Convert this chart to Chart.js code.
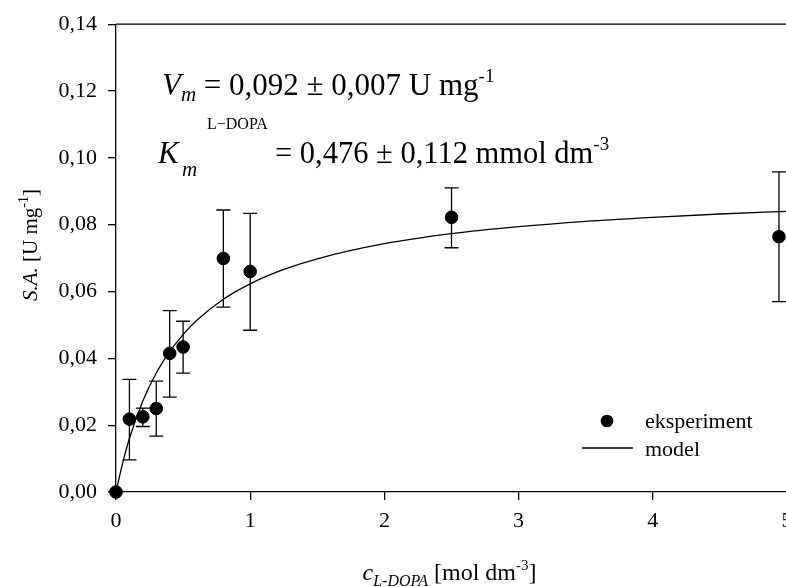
<!DOCTYPE html>
<html>
<head>
<meta charset="utf-8">
<style>
  html, body { margin: 0; padding: 0; background: #fff; overflow: hidden; }
  #wrap { width: 830px; height: 587px; }
</style>
<script src="https://cdn.jsdelivr.net/npm/chart.js@4.4.1/dist/chart.umd.min.js"></script>
</head>
<body>
<div id="wrap"><canvas id="kin" width="830" height="587"></canvas></div>
<script>
// measured points (c in mol dm-3, S.A. in U mg-1) with error bar ends
const conc = [0, 0.1, 0.2, 0.3, 0.4, 0.5, 0.8, 1.0, 2.5, 4.94];
const activity = [0, 0.0218, 0.0225, 0.0250, 0.0415, 0.0434, 0.0699, 0.0660, 0.0822, 0.0764];
const errLow = [0, 0.0096, 0.0196, 0.0167, 0.0284, 0.0356, 0.0553, 0.0484, 0.0731, 0.0570];
const errHigh = [0, 0.0337, 0.0251, 0.0332, 0.0543, 0.0511, 0.0844, 0.0834, 0.0910, 0.0958];

// model curve
const modelConc = [0, 0.05, 0.1, 0.2, 0.3, 0.4, 0.5, 0.6, 0.8, 1.0, 1.25, 1.5, 2.0, 2.5, 3.0, 3.5, 4.0, 4.5, 5.0];
const modelActivity = [0, 0.0087, 0.0160, 0.0272, 0.0356, 0.0420, 0.0471, 0.0513, 0.0577, 0.0623, 0.0666, 0.0698, 0.0743, 0.0773, 0.0794, 0.0810, 0.0822, 0.0832, 0.0840];

const xTickLabels = ['0', '1', '2', '3', '4', '5'];
const yTickLabels = ['0,00', '0,02', '0,04', '0,06', '0,08', '0,10', '0,12', '0,14'];

const SERIF = '"Liberation Serif", "Times New Roman", serif';
const f = (size, italic) => (italic ? 'italic ' : '') + size + 'px ' + SERIF;

function measure(ctx, parts) {
  let w = 0;
  for (const p of parts) { ctx.font = p[1]; w += ctx.measureText(p[0]).width; }
  return w;
}

function rich(ctx, x, y, parts) {
  let cx = x;
  for (const p of parts) {
    ctx.font = p[1];
    ctx.fillText(p[0], cx, y + (p[2] || 0));
    cx += ctx.measureText(p[0]).width;
  }
  return cx;
}

const errorBars = {
  id: 'errorBars',
  beforeDatasetsDraw(chart) {
    const { ctx, scales: { x, y } } = chart;
    ctx.save();
    ctx.strokeStyle = '#000';
    ctx.lineWidth = 1.3;
    conc.forEach((c, i) => {
      if (errHigh[i] === errLow[i]) return;
      const px = x.getPixelForValue(c);
      const top = y.getPixelForValue(errHigh[i]);
      const bot = y.getPixelForValue(errLow[i]);
      ctx.beginPath();
      ctx.moveTo(px, top); ctx.lineTo(px, bot);
      ctx.moveTo(px - 7, top); ctx.lineTo(px + 7, top);
      ctx.moveTo(px - 7, bot); ctx.lineTo(px + 7, bot);
      ctx.stroke();
    });
    ctx.restore();
  }
};

const decorations = {
  id: 'decorations',
  afterDraw(chart) {
    const { ctx, chartArea: a } = chart;
    ctx.save();
    ctx.fillStyle = '#000';
    ctx.strokeStyle = '#000';
    ctx.lineWidth = 1.3;
    // frame top / right
    ctx.beginPath();
    ctx.moveTo(a.left, a.top); ctx.lineTo(a.right, a.top); ctx.lineTo(a.right, a.bottom);
    ctx.stroke();

    ctx.textBaseline = 'alphabetic';
    ctx.textAlign = 'left';

    // x title
    const xt = [['c', f(24, true)], ['L-DOPA', f(16, true), 6], [' [mol dm', f(24)], ['-3', f(15), -10], [']', f(24)]];
    const xc = (a.left + a.right) / 2 - 2;
    rich(ctx, xc - measure(ctx, xt) / 2, 580, xt);

    // y title
    const yt = [['S.A.', f(21, true)], [' [U mg', f(21)], ['-1', f(14), -9], [']', f(21)]];
    ctx.save();
    ctx.translate(37, 245);
    ctx.rotate(-Math.PI / 2);
    rich(ctx, -measure(ctx, yt) / 2, 0, yt);
    ctx.restore();

    // fitted parameters
    rich(ctx, a.left + 46, 95, [['V', f(31, true)], ['m', f(21, true), 6], [' = 0,092 ± 0,007 U mg', f(31)], ['-1', f(19), -13]]);
    const kx = a.left + 42;
    ctx.font = f(31, true);
    ctx.fillText('K', kx, 163);
    ctx.font = f(21, true);
    ctx.fillText('m', kx + 24, 176);
    ctx.font = f(16);
    ctx.fillText('L\u2212DOPA', a.left + 91, 129);
    rich(ctx, a.left + 159, 163, [['= 0,476 ± 0,112 mmol dm', f(30.5)], ['-3', f(19), -13]]);

    // legend
    const lx = a.left + 529;
    ctx.beginPath();
    ctx.arc(a.left + 491, 421, 6.3, 0, Math.PI * 2);
    ctx.fill();
    ctx.font = f(22);
    ctx.fillText('eksperiment', lx, 428);
    ctx.beginPath();
    ctx.moveTo(a.left + 466, 448); ctx.lineTo(a.left + 517, 448);
    ctx.stroke();
    ctx.fillText('model', lx, 456);
    ctx.restore();
  }
};

new Chart(document.getElementById('kin'), {
  type: 'scatter',
  data: {
    datasets: [
      {
        label: 'eksperiment',
        data: conc.map((c, i) => ({ x: c, y: activity[i] })),
        backgroundColor: '#000',
        borderColor: '#000',
        pointRadius: 6.3,
        pointHoverRadius: 6.3,
        clip: false,
        order: 0
      },
      {
        label: 'model',
        type: 'line',
        data: modelConc.map((c, i) => ({ x: c, y: modelActivity[i] })),
        borderColor: '#000',
        borderWidth: 1.3,
        pointRadius: 0,
        fill: false,
        cubicInterpolationMode: 'monotone',
        order: 1
      }
    ]
  },
  options: {
    responsive: false,
    animation: false,
    events: [],
    layout: { padding: { top: 22, right: 43, left: 0, bottom: 0 } },
    plugins: { legend: { display: false }, tooltip: { enabled: false } },
    scales: {
      x: {
        type: 'linear',
        min: 0,
        max: 5,
        afterFit: (s) => { s.height = 95; },
        afterBuildTicks: (s) => { s.ticks = xTickLabels.map((t) => ({ value: Number(t) })); },
        ticks: {
          callback: (v, i) => xTickLabels[i],
          font: { family: SERIF, size: 22 },
          color: '#000',
          padding: 8,
          maxRotation: 0
        },
        grid: { drawOnChartArea: false, drawTicks: true, tickLength: 8, color: '#000', lineWidth: 1.3 },
        border: { display: true, color: '#000', width: 1.3 }
      },
      y: {
        type: 'linear',
        min: 0,
        max: 0.14,
        afterFit: (s) => { s.width = 116; },
        afterBuildTicks: (s) => { s.ticks = yTickLabels.map((t) => ({ value: Number(t.replace(',', '.')) })); },
        ticks: {
          callback: (v, i) => yTickLabels[i],
          font: { family: SERIF, size: 22 },
          color: '#000',
          padding: 11
        },
        grid: { drawOnChartArea: false, drawTicks: true, tickLength: 8, color: '#000', lineWidth: 1.3 },
        border: { display: true, color: '#000', width: 1.3 }
      }
    }
  },
  plugins: [errorBars, decorations]
});
</script>
</body>
</html>
